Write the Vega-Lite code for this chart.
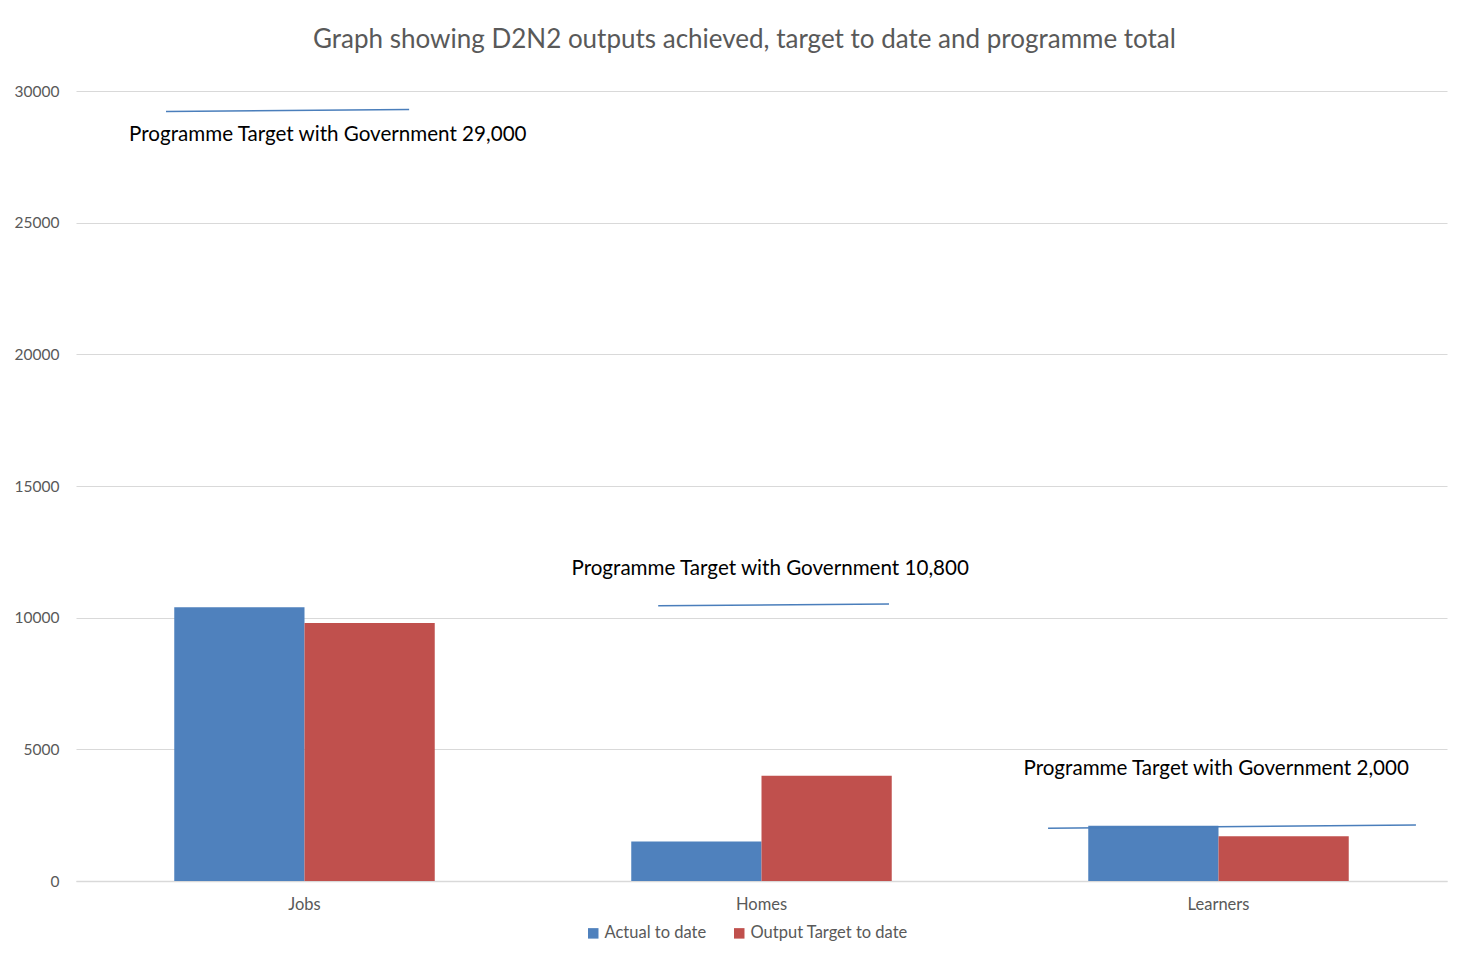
{
  "$schema": "https://vega.github.io/schema/vega-lite/v6.json",
  "width": 1371,
  "height": 790,
  "autosize": {"type": "none"},
  "padding": {"left": 76, "top": 91, "right": 16, "bottom": 77},
  "background": "white",
  "title": {
    "text": "Graph showing D2N2 outputs achieved, target to date and programme total",
    "font": "Lato",
    "fontSize": 26,
    "fontWeight": "normal",
    "color": "#595959",
    "anchor": "middle",
    "dx": -17,
    "offset": 31
  },
  "config": {
    "view": {"stroke": null},
    "font": "Lato",
    "axis": {"labelFont": "Lato", "labelColor": "#595959", "labelFontSize": 15.5, "titleFontSize": 15}
  },
  "datasets": {
    "bars": [
      {"Category": "Jobs", "Series": "Actual to date", "Value": 10400},
      {"Category": "Jobs", "Series": "Output Target to date", "Value": 9800},
      {"Category": "Homes", "Series": "Actual to date", "Value": 1500},
      {"Category": "Homes", "Series": "Output Target to date", "Value": 4000},
      {"Category": "Learners", "Series": "Actual to date", "Value": 2100},
      {"Category": "Learners", "Series": "Output Target to date", "Value": 1700}
    ],
    "targets": [
      {"Category": "Jobs", "xs": 0.197, "xe": 0.729, "ys": 29220, "ye": 29300, "lx": 0.551, "ly": 28330, "Label": "Programme Target with Government 29,000"},
      {"Category": "Homes", "xs": 1.274, "xe": 1.779, "ys": 10450, "ye": 10520, "lx": 1.519, "ly": 11850, "Label": "Programme Target with Government 10,800"},
      {"Category": "Learners", "xs": 2.127, "xe": 2.932, "ys": 2000, "ye": 2130, "lx": 2.495, "ly": 4250, "Label": "Programme Target with Government 2,000"}
    ]
  },
  "layer": [
    {
      "data": {"name": "bars"},
      "mark": {"type": "bar"},
      "encoding": {
        "x": {
          "field": "Category", "type": "nominal",
          "sort": ["Jobs", "Homes", "Learners"],
          "scale": {"paddingInner": 0.43, "paddingOuter": 0.215},
          "axis": {"title": null, "labelAngle": 0, "labelFontSize": 16.5, "ticks": false, "domain": true, "domainColor": "#d9d9d9", "domainWidth": 1.5, "labelPadding": 15}
        },
        "xOffset": {"field": "Series", "type": "nominal", "sort": ["Actual to date", "Output Target to date"]},
        "y": {
          "field": "Value", "type": "quantitative",
          "scale": {"domain": [0, 30000], "nice": false},
          "axis": {"title": null, "values": [0, 5000, 10000, 15000, 20000, 25000, 30000], "format": "d", "ticks": false, "domain": false, "gridColor": "#d9d9d9", "gridWidth": 1.2, "labelPadding": 17}
        },
        "color": {
          "field": "Series", "type": "nominal",
          "scale": {"domain": ["Actual to date", "Output Target to date"], "range": ["#4F81BD", "#C0504D"]},
          "legend": {
            "title": null, "orient": "none", "legendX": 509, "legendY": 834, "direction": "horizontal",
            "symbolType": "square", "symbolSize": 110, "symbolStrokeWidth": 0,
            "labelFontSize": 16.5, "labelColor": "#595959", "labelFont": "Lato",
            "columnPadding": 24, "labelOffset": 3
          }
        }
      }
    },
    {
      "data": {"name": "targets"},
      "mark": {"type": "rule", "color": "#4A7EBB", "strokeWidth": 1.5},
      "encoding": {
        "x": {"field": "xs", "type": "quantitative", "scale": {"domain": [0, 3], "nice": false, "zero": false}, "axis": null},
        "x2": {"field": "xe"},
        "y": {"field": "ys", "type": "quantitative", "axis": {"title": null, "values": [0, 5000, 10000, 15000, 20000, 25000, 30000], "format": "d", "ticks": false, "domain": false, "gridColor": "#d9d9d9", "gridWidth": 1.2, "labelPadding": 17}},
        "y2": {"field": "ye"}
      }
    },
    {
      "data": {"name": "targets"},
      "mark": {"type": "text", "font": "Lato", "fontSize": 20.6, "color": "#000000", "align": "center", "baseline": "middle"},
      "encoding": {
        "x": {"field": "lx", "type": "quantitative", "scale": {"domain": [0, 3], "nice": false, "zero": false}, "axis": null},
        "y": {"field": "ly", "type": "quantitative", "axis": {"title": null, "values": [0, 5000, 10000, 15000, 20000, 25000, 30000], "format": "d", "ticks": false, "domain": false, "gridColor": "#d9d9d9", "gridWidth": 1.2, "labelPadding": 17}},
        "text": {"field": "Label"}
      }
    }
  ],
  "resolve": {"scale": {"x": "independent"}, "axis": {"x": "independent"}}
}
